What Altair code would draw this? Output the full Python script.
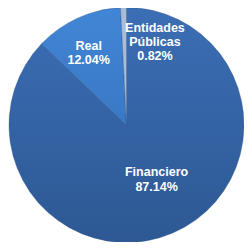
import altair as alt
import pandas as pd

categories = ["Financiero", "Real", "Entidades Públicas"]
values = [87.14, 12.04, 0.82]
labels = [["Financiero", "87.14%"], ["Real", "12.04%"], ["Entidades", "Públicas", "0.82%"]]

df = pd.DataFrame({"cat": categories, "val": values, "ord": [0, 1, 2]})
df["label"] = labels

base = alt.Chart(df).transform_window(
    cum="sum(val)", sort=[alt.SortField("ord")]
).transform_calculate(
    start="datum.cum - datum.val", mid="datum.cum - datum.val/2"
)

theta_scale = alt.Scale(domain=[0, 100], range=[0, 6.283185307])

fills = {
    "Financiero": {"gradient": "linear", "x1": 0, "y1": 0, "x2": 0, "y2": 1,
                   "stops": [{"offset": 0, "color": "#3B6EB5"}, {"offset": 1, "color": "#2D5893"}]},
    "Real": {"gradient": "linear", "x1": 0, "y1": 0, "x2": 0, "y2": 1,
             "stops": [{"offset": 0, "color": "#4186D6"}, {"offset": 1, "color": "#3A78C4"}]},
    "Entidades Públicas": "#A9BCD8",
}

CX, CY, R = 118.5, 117, 117.5

layers = []
for c in categories:
    layers.append(
        base.transform_filter(alt.datum.cat == c).mark_arc(
            fill=fills[c], stroke="#2B5288", strokeWidth=0.4, outerRadius=R
        ).encode(
            theta=alt.Theta("start:Q", scale=theta_scale),
            theta2="cum:Q",
            x=alt.value(CX), y=alt.value(CY),
        )
    )

offsets = {"Financiero": (6.5, -8, 60), "Real": (-4.5, -6.3, 80), "Entidades Públicas": (30.5, -17, 80)}
line_heights = {"Financiero": 14.5, "Real": 14.5, "Entidades Públicas": 14}
for c in categories:
    dx, dy, r = offsets[c]
    layers.append(
        base.transform_filter(alt.datum.cat == c).mark_text(
            color="white", fontWeight="bold", fontSize=12.5, font="Liberation Sans",
            lineHeight=line_heights[c], dx=dx, dy=dy, baseline="middle"
        ).encode(
            theta=alt.Theta("mid:Q", scale=theta_scale),
            radius=alt.value(r),
            text="label",
            x=alt.value(CX), y=alt.value(CY),
        )
    )

chart = alt.layer(*layers).properties(
    width=236, height=234, padding=0, autosize="none"
).configure_view(stroke=None)

chart.save("out.html", embed_options={"renderer": "svg", "actions": False})
